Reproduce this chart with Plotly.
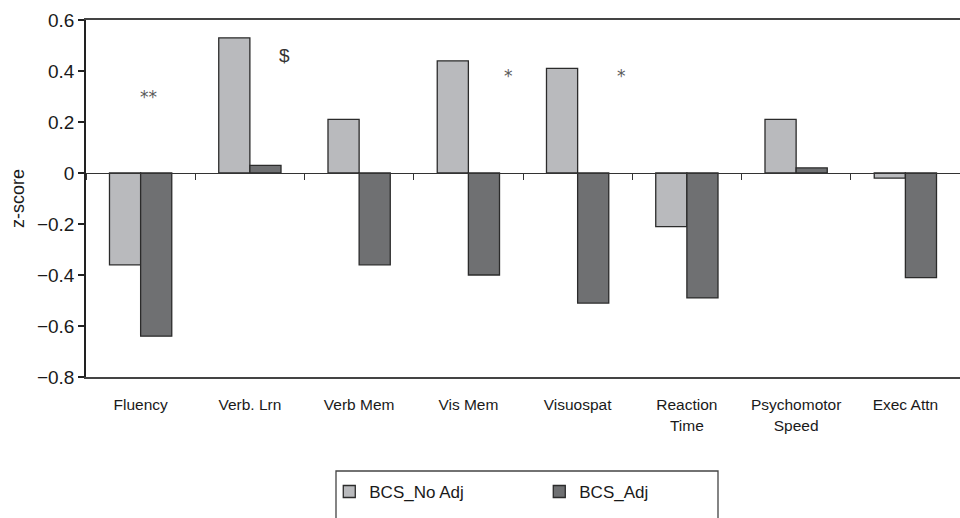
import plotly.graph_objects as go

# Cognitive domain categories and mean z-scores per group
categories = ["Fluency", "Verb. Lrn", "Verb Mem", "Vis Mem", "Visuospat",
              "Reaction<br>Time", "Psychomotor<br>Speed", "Exec Attn"]
no_adj = [-0.36, 0.53, 0.21, 0.44, 0.41, -0.21, 0.21, -0.02]
adj = [-0.64, 0.03, -0.36, -0.40, -0.51, -0.49, 0.02, -0.41]

# Significance markers: position (category index + offset), height and symbol
marks_x = [0.07, 1.32, 3.37, 4.40]
marks_y = [0.31, 0.46, 0.39, 0.39]
marks_text = ["**", "$", "*", "*"]

y_ticks = [0.6, 0.4, 0.2, 0, -0.2, -0.4, -0.6, -0.8]

FONT = "Liberation Sans, Arial, sans-serif"
EDGE = "#2b2b2b"

fig = go.Figure()
fig.add_trace(go.Bar(x=categories, y=no_adj, name="BCS_No Adj",
                     marker=dict(color="#b9babd", line=dict(color=EDGE, width=1.3))))
fig.add_trace(go.Bar(x=categories, y=adj, name="BCS_Adj",
                     marker=dict(color="#6f7072", line=dict(color=EDGE, width=1.3))))

# invisible helper trace so the zero-line axis (with boundary ticks) is drawn
fig.add_trace(go.Scatter(x=categories, y=[0] * len(categories), xaxis="x2",
                         mode="markers", marker=dict(opacity=0),
                         showlegend=False, hoverinfo="skip"))

for xv, yv, t in zip(marks_x, marks_y, marks_text):
    star = t != "$"
    fig.add_annotation(x=xv, y=yv + (-0.01 if star else 0), text=t, showarrow=False,
                       font=dict(family="DejaVu Sans, sans-serif" if star else FONT,
                                 size=17 if star else 19,
                                 color="#5a5a5a" if star else "#333333"))

y_min, y_max = -0.8, 0.6
zero_pos = (0 - y_min) / (y_max - y_min)

fig.update_layout(
    width=960, height=518,
    margin=dict(l=86, r=0, t=20, b=141),
    paper_bgcolor="white", plot_bgcolor="white",
    barmode="group", bargap=0.43, bargroupgap=0,
    font=dict(family=FONT, color="#222222"),
    xaxis=dict(categoryorder="array", categoryarray=categories,
               showline=True, linecolor="#444444", linewidth=1.5, mirror=True,
               ticks="", showgrid=False, ticklabelstandoff=13,
               tickfont=dict(size=15.5, color="#1a1a1a")),
    xaxis2=dict(overlaying="x", anchor="free", position=zero_pos,
                categoryorder="array", categoryarray=categories,
                matches="x", showline=True, linecolor="#333333", linewidth=1.3,
                ticks="outside", tickson="boundaries", ticklen=6,
                tickcolor="#333333", tickwidth=1.3,
                showticklabels=False, showgrid=False),
    yaxis=dict(range=[y_min, y_max], tickvals=y_ticks,
               showline=True, linecolor="#222222", linewidth=1.5,
               ticks="outside", ticklen=6, tickcolor="#222222", tickwidth=1.5,
               showgrid=False, zeroline=False,
               tickfont=dict(size=19, color="#1a1a1a"),
               title=dict(text="z-score", font=dict(size=18, color="#1a1a1a"),
                          standoff=8)),
    legend=dict(orientation="h", xref="container", yref="container",
                x=0.343, y=0.085, xanchor="left", yanchor="top",
                entrywidth=165, entrywidthmode="pixels",
                font=dict(size=17, color="#1a1a1a"), bgcolor="rgba(0,0,0,0)"),
    shapes=[dict(type="rect", xref="paper", yref="paper",
                 x0=(336 - 86) / 874, x1=(718 - 86) / 874,
                 y0=-0.42, y1=(377 - 471) / 357,
                 line=dict(color="#444444", width=1.3), fillcolor="rgba(0,0,0,0)")],
)

fig.write_html("out.html")
